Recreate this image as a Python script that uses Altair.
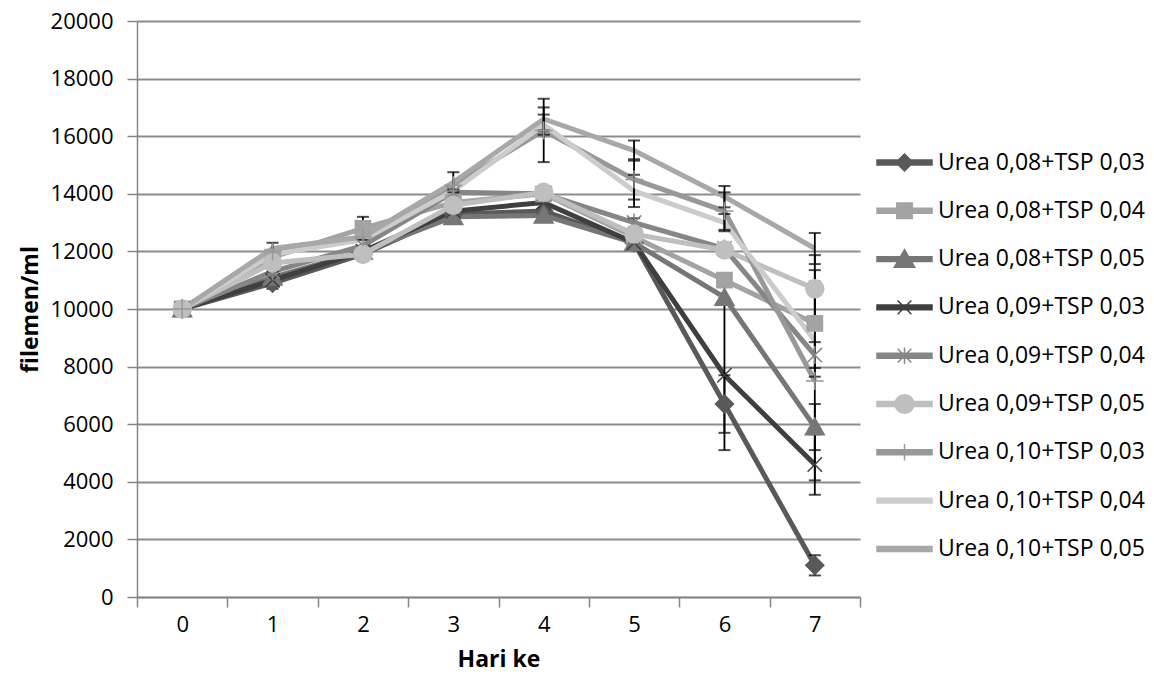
import altair as alt
import pandas as pd

days = [0, 1, 2, 3, 4, 5, 6, 7]
names = [
    "Urea 0,08+TSP 0,03", "Urea 0,08+TSP 0,04", "Urea 0,08+TSP 0,05",
    "Urea 0,09+TSP 0,03", "Urea 0,09+TSP 0,04", "Urea 0,09+TSP 0,05",
    "Urea 0,10+TSP 0,03", "Urea 0,10+TSP 0,04", "Urea 0,10+TSP 0,05",
]
s1 = [10000, 10900, 11900, 13300, 13400, 12300, 6700, 1100]
s2 = [10000, 11800, 12800, 13700, 14000, 12500, 11000, 9500]
s3 = [10000, 11100, 12000, 13200, 13250, 12300, 10400, 5900]
s4 = [10000, 11000, 12000, 13400, 13700, 12300, 7700, 4600]
s5 = [10000, 11300, 12200, 14050, 14000, 13000, 12100, 8400]
s6 = [10000, 11600, 11900, 13600, 14050, 12600, 12050, 10700]
s7 = [10000, 12000, 12500, 14300, 16200, 14500, 13400, 7500]
s8 = [10000, 11900, 12400, 14100, 16400, 14100, 13000, 8900]
s9 = [10000, 12100, 12500, 14400, 16600, 15500, 13900, 12100]
values = [s1, s2, s3, s4, s5, s6, s7, s8, s9]

e1 = [0, 0, 0, 0, 0, 0, 1000, 350]
e2 = [0, 0, 400, 0, 0, 0, 0, 1850]
e3 = [0, 0, 0, 0, 0, 0, 0, 800]
e4 = [0, 300, 0, 0, 0, 0, 2600, 1050]
e5 = [0, 0, 0, 100, 0, 150, 150, 450]
e6 = [0, 0, 0, 0, 0, 0, 0, 1170]
e7 = [0, 300, 0, 0, 1100, 700, 650, 3450]
e8 = [0, 0, 0, 0, 350, 560, 300, 0]
e9 = [0, 0, 0, 350, 400, 350, 370, 540]
errors = [e1, e2, e3, e4, e5, e6, e7, e8, e9]

colors = ["#595959", "#a3a3a3", "#767676", "#3f3f3f", "#868686",
          "#bfbfbf", "#989898", "#cccccc", "#a8a8a8"]
# plot markers (unit box -1..1)
shapes = [
    "M0,-1L1,0L0,1L-1,0Z",
    "M-0.85,-0.85H0.85V0.85H-0.85Z",
    "M0,-1L1.05,0.85L-1.05,0.85Z",
    "M-0.8,-0.8L0.8,0.8M-0.8,0.8L0.8,-0.8",
    "M-0.8,-0.8L0.8,0.8M-0.8,0.8L0.8,-0.8M0,-1L0,1",
    "M-1,0A1,1 0 1,1 1,0A1,1 0 1,1 -1,0Z",
    "M-1,0H1M0,-1V1",
    "M0,0",
    "M0,0",
]
# legend symbols: line segment + marker
LN = "M-1,-0.09H1V0.09H-1Z"
legend_shapes = [
    LN + "M0,-0.31L0.31,0L0,0.31L-0.31,0Z",
    LN + "M-0.28,-0.28H0.28V0.28H-0.28Z",
    LN + "M0,-0.34L0.37,0.3L-0.37,0.3Z",
    LN + "M-0.25,-0.25L0.25,0.25M-0.25,0.25L0.25,-0.25",
    LN + "M-0.25,-0.25L0.25,0.25M-0.25,0.25L0.25,-0.25M0,-0.3L0,0.3",
    LN + "M-0.34,0A0.34,0.34 0 1,1 0.34,0A0.34,0.34 0 1,1 -0.34,0Z",
    LN + "M0,-0.3V0.3",
    LN,
    LN,
]

rows = []
for name, vals, errs in zip(names, values, errors):
    for d, v, e in zip(days, vals, errs):
        rows.append({"series": name, "marker": name, "day": d, "value": v,
                     "err": e, "lo": v - e, "hi": v + e})
df = pd.DataFrame(rows)
df_err = df[df["err"] > 0]

FONT = "Open Sans"
x_enc = alt.X("day:O", bandPosition=0.5,
              scale=alt.Scale(type="band", paddingInner=0, paddingOuter=0),
              axis=alt.Axis(title="Hari ke", labelAngle=0, tickBand="extent",
                            tickSize=10, labelPadding=7, titlePadding=13))
y_scale = alt.Scale(domain=[0, 20000], nice=False)
y_axis = alt.Axis(title="filemen/ml", values=list(range(0, 20001, 2000)),
                  format="d", tickSize=10, labelPadding=14, titlePadding=8,
                  grid=True)

lines = alt.Chart(df).mark_line(strokeWidth=5).encode(
    x=x_enc,
    y=alt.Y("value:Q", scale=y_scale, axis=y_axis),
    color=alt.Color("series:N", scale=alt.Scale(domain=names, range=colors),
                    legend=None),
    order=alt.Order("day:Q"),
)

rules = alt.Chart(df_err).mark_rule(color="black", strokeWidth=1.8).encode(
    x=alt.X("day:O", bandPosition=0.5),
    y=alt.Y("lo:Q"),
    y2="hi:Q",
)
cap_lo = alt.Chart(df_err).mark_tick(color="black", thickness=2, size=12).encode(
    x=alt.X("day:O"), y=alt.Y("lo:Q"))
cap_hi = alt.Chart(df_err).mark_tick(color="black", thickness=2, size=12).encode(
    x=alt.X("day:O"), y=alt.Y("hi:Q"))

points = alt.Chart(df).mark_point(size=324, strokeWidth=1.5, opacity=1).encode(
    x=alt.X("day:O", bandPosition=0.5),
    y=alt.Y("value:Q"),
    fill=alt.Fill("series:N", scale=alt.Scale(domain=names, range=colors), legend=None),
    stroke=alt.Stroke("series:N", scale=alt.Scale(domain=names, range=colors), legend=None),
    shape=alt.Shape("series:N", scale=alt.Scale(domain=names, range=shapes), legend=None),
)

leg = alt.Legend(orient="none", direction="vertical", title=None, padding=0,
                 labelFont=FONT, labelFontSize=23, labelColor="#000000",
                 labelLimit=400, rowPadding=7.3, legendX=739, legendY=113,
                 symbolSize=3025, symbolStrokeWidth=1.5, symbolOpacity=1,
                 labelOffset=5)
legend_layer = alt.Chart(df).transform_filter(alt.datum.day < 0).mark_point(
    size=3025, strokeWidth=1.5, opacity=1).encode(
    x=alt.X("day:O", bandPosition=0.5),
    y=alt.Y("value:Q"),
    fill=alt.Fill("marker:N", scale=alt.Scale(domain=names, range=colors), legend=leg),
    stroke=alt.Stroke("marker:N", scale=alt.Scale(domain=names, range=colors), legend=leg),
    shape=alt.Shape("marker:N", scale=alt.Scale(domain=names, range=legend_shapes), legend=leg),
)

chart = alt.layer(lines, rules, cap_lo, cap_hi, points, legend_layer).resolve_scale(
    fill="independent", stroke="independent", shape="independent"
).resolve_legend(
    fill="independent", stroke="independent", shape="independent"
).properties(
    width=723, height=576,
    autosize=alt.AutoSizeParams(type="none"),
    padding={"left": 129, "top": 13, "right": 286, "bottom": 76},
).configure_view(stroke=None).configure_axis(
    labelFont=FONT, labelFontSize=22, labelColor="#000000",
    titleFont=FONT, titleFontSize=23, titleFontWeight="bold", titleColor="#000000",
    domainColor="#868686", domainWidth=1.5, tickColor="#868686", tickWidth=1.5,
    gridColor="#8c8c8c", gridWidth=2,
)

chart.save("out.html", embed_options={"renderer": "svg", "actions": False})
